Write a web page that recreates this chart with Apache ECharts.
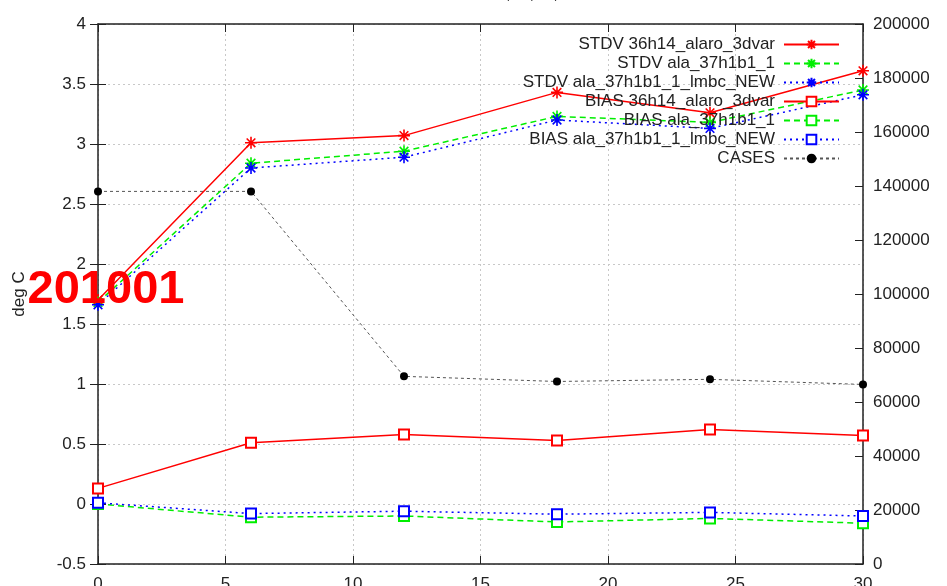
<!DOCTYPE html>
<html>
<head>
<meta charset="utf-8">
<script src="https://cdn.jsdelivr.net/npm/echarts@6/dist/echarts.min.js"></script>
<style>
  html, body { margin: 0; padding: 0; background: #fff; }
  #chart { width: 947px; height: 586px; }
</style>
</head>
<body>
<div id="chart"></div>
<script>
// forecast hours
var hours = [0, 6, 12, 18, 24, 30];

// deg C
var stdvAlaro = [1.70, 3.01, 3.07, 3.43, 3.26, 3.61];
var stdvAla = [1.68, 2.84, 2.94, 3.23, 3.18, 3.45];
var stdvAlaLmbc = [1.66, 2.80, 2.89, 3.20, 3.13, 3.41];
var biasAlaro = [0.13, 0.51, 0.58, 0.53, 0.62, 0.57];
var biasAla = [0.0, -0.11, -0.10, -0.15, -0.12, -0.16];
var biasAlaLmbc = [0.01, -0.08, -0.06, -0.085, -0.07, -0.10];

// number of cases (right axis)
var cases = [138000, 138000, 69500, 67600, 68400, 66500];

var seriesNames = [
  "STDV 36h14_alaro_3dvar",
  "STDV ala_37h1b1_1",
  "STDV ala_37h1b1_1_lmbc_NEW",
  "BIAS 36h14_alaro_3dvar",
  "BIAS ala_37h1b1_1",
  "BIAS ala_37h1b1_1_lmbc_NEW",
  "CASES"
];

var starPath = "path://M0,-5L0,5M-5,0L5,0M-3.6,-3.6L3.6,3.6M-3.6,3.6L3.6,-3.6";
var font = "Liberation Sans, Arial, sans-serif";

function pairs(ys) {
  return hours.map(function (h, i) { return [h, ys[i]]; });
}

function lineSeries(name, ys, color, dash, symbol) {
  var star = symbol === "star";
  return {
    name: name,
    type: "line",
    xAxisIndex: 0,
    yAxisIndex: 0,
    data: pairs(ys),
    symbol: star ? starPath : "emptyRect",
    symbolSize: star ? 12 : 10,
    showAllSymbol: true,
    lineStyle: { color: color, width: 1.5, type: dash },
    itemStyle: star
      ? { color: color, borderColor: color, borderWidth: 1.6 }
      : { color: color, borderWidth: 1.3 },
    z: 3
  };
}

var chart = echarts.init(document.getElementById("chart"));

// one legend per row so the text is right-aligned like gnuplot's key
var legends = seriesNames.map(function (n, i) {
  return {
    data: [n],
    right: 107,
    top: 36 + i * 19,
    align: "right",
    orient: "vertical",
    padding: 0,
    itemGap: 0,
    itemWidth: 55,
    itemHeight: 12,
    selectedMode: false,
    textStyle: { fontSize: 17, color: "#222", fontFamily: font, padding: [0, 4, 0, 0] }
  };
});

chart.setOption({
  backgroundColor: "#fff",
  animation: false,
  textStyle: { fontFamily: font },
  grid: { left: 98, right: 84, top: 24, bottom: 22, containLabel: false, outerBoundsMode: "none" },
  legend: legends,
  graphic: [
    {
      type: "text",
      x: 480, y: 3,
      style: {
        text: "T2m - Hours: 00,06,12,18",
        fontSize: 17, fontFamily: font, fill: "#222",
        textAlign: "center", textVerticalAlign: "bottom"
      }
    },
    {
      type: "text",
      x: 106, y: 290,
      z: 100,
      style: {
        text: "201001",
        fontSize: 47, fontWeight: "bold", fontFamily: font, fill: "#ff0000",
        textAlign: "center", textVerticalAlign: "middle"
      }
    }
  ],
  xAxis: [
    {
      type: "value", position: "bottom",
      min: 0, max: 30, interval: 5,
      axisLine: { onZero: false, lineStyle: { color: "#222", width: 1.5 } },
      axisTick: { inside: true, length: 8, lineStyle: { color: "#222" } },
      axisLabel: { fontSize: 17, color: "#222", margin: 12 },
      splitLine: { show: true, lineStyle: { color: "#c8c8c8", type: [2, 3] } }
    },
    {
      type: "value", position: "top",
      min: 0, max: 30, interval: 5,
      axisLine: { show: true, onZero: false, lineStyle: { color: "#222", width: 1.5 } },
      axisTick: { inside: true, length: 8, lineStyle: { color: "#222" } },
      axisLabel: { show: false },
      splitLine: { show: false }
    }
  ],
  yAxis: [
    {
      type: "value", position: "left",
      min: -0.5, max: 4, interval: 0.5,
      name: "deg C", nameLocation: "middle", nameGap: 70, nameRotate: 90,
      nameTextStyle: { fontSize: 17, color: "#222" },
      axisLine: { show: true, onZero: false, lineStyle: { color: "#222", width: 1.5 } },
      axisTick: { inside: true, length: 8, lineStyle: { color: "#222" } },
      axisLabel: { fontSize: 17, color: "#222", margin: 12 },
      splitLine: { show: true, lineStyle: { color: "#c8c8c8", type: [2, 3] } }
    },
    {
      type: "value", position: "right",
      min: 0, max: 200000, interval: 20000,
      axisLine: { show: true, onZero: false, lineStyle: { color: "#222", width: 1.5 } },
      axisTick: { inside: true, length: 8, lineStyle: { color: "#222" } },
      axisLabel: {
        fontSize: 17, color: "#222", margin: 10,
        formatter: function (v) { return String(v); }
      },
      splitLine: { show: false }
    },
    {
      type: "value", position: "right",
      min: -0.5, max: 4, interval: 0.5,
      axisLine: { show: false },
      axisTick: { inside: true, length: 8, lineStyle: { color: "#222" } },
      axisLabel: { show: false },
      splitLine: { show: false }
    }
  ],
  series: [
    lineSeries(seriesNames[0], stdvAlaro, "#ff0000", "solid", "star"),
    lineSeries(seriesNames[1], stdvAla, "#00ee00", [6, 4], "star"),
    lineSeries(seriesNames[2], stdvAlaLmbc, "#0000ff", [2, 4], "star"),
    lineSeries(seriesNames[3], biasAlaro, "#ff0000", "solid", "rect"),
    lineSeries(seriesNames[4], biasAla, "#00ee00", [6, 4], "rect"),
    lineSeries(seriesNames[5], biasAlaLmbc, "#0000ff", [2, 4], "rect"),
    {
      name: seriesNames[6],
      type: "line",
      xAxisIndex: 0,
      yAxisIndex: 1,
      data: pairs(cases),
      symbol: "circle",
      symbolSize: 8,
      lineStyle: { color: "#555", width: 1, type: [3, 3] },
      itemStyle: { color: "#000" },
      z: 2
    }
  ]
});
</script>
</body>
</html>
